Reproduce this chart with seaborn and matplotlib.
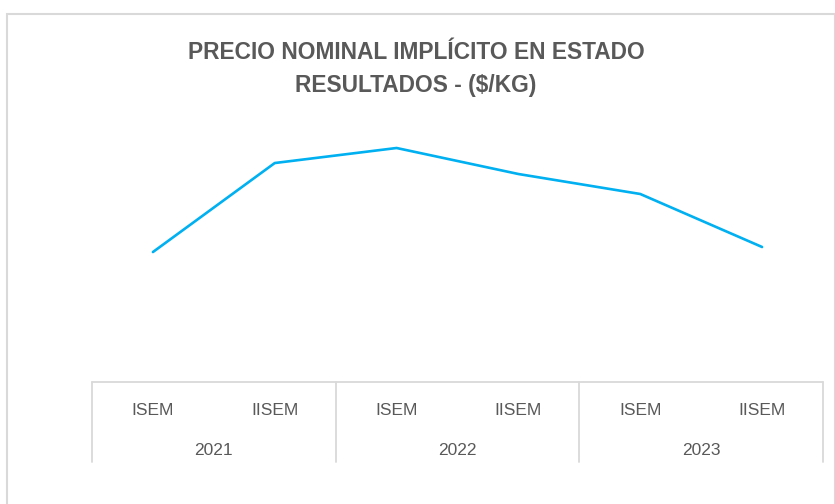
import numpy as np
import pandas as pd
import seaborn as sns
from matplotlib import pyplot as plt
from matplotlib.patches import Rectangle

# datos (valores aproximados, $/kg)
semestres = ['ISEM', 'IISEM', 'ISEM', 'IISEM', 'ISEM', 'IISEM']
anios = ['2021', '2022', '2023']
precio = [1444, 2433, 2600, 2311, 2089, 1500]

df = pd.DataFrame({'pos': np.arange(len(precio)), 'precio': precio})

sns.set_style('white')
plt.rcParams['font.family'] = ['Liberation Sans', 'DejaVu Sans']
gris = '#595959'

fig = plt.figure(figsize=(8.35, 5.04), dpi=100)
W, H = 835, 504
# borde del área del gráfico
fig.patches.append(Rectangle((7 / W, -0.1), (835 - 7) / W, 1.1 - 14 / H,
                             transform=fig.transFigure, fill=False,
                             edgecolor='#D9D9D9', linewidth=1.5))

ax = fig.add_axes([92 / W, 1 - 382 / H, (823 - 92) / W, (382 - 112) / H])
sns.lineplot(data=df, x='pos', y='precio', ax=ax, color='#00B0F0', linewidth=1.9)
ax.set_xlim(-0.5, len(precio) - 0.5)
ax.set_ylim(0, 3000)
ax.set_xticks([])
ax.set_yticks([])
ax.set_xlabel('')
ax.set_ylabel('')
for s in ax.spines.values():
    s.set_visible(False)

trans = ax.get_xaxis_transform()
linea = dict(color='#D9D9D9', linewidth=1.3, clip_on=False, transform=trans)
ax.plot([-0.5, len(precio) - 0.5], [0, 0], **linea)
for i in range(len(anios) + 1):
    xs = -0.5 + 2 * i
    ax.plot([xs, xs], [0, -0.296], **linea)

for i, s in enumerate(semestres):
    ax.text(i, -0.104, s, transform=trans, ha='center', va='center',
            fontsize=12.5, color=gris)
for j, a in enumerate(anios):
    ax.text(2 * j + 0.5, -0.252, a, transform=trans, ha='center', va='center',
            fontsize=12.5, color=gris)

fig.text(416 / W, 1 - 69 / H, 'PRECIO NOMINAL IMPLÍCITO EN ESTADO\nRESULTADOS - ($/KG)',
         ha='center', va='center', fontsize=16.4, fontweight='bold', color=gris,
         linespacing=1.55)

fig.savefig('out.png', dpi=100)
